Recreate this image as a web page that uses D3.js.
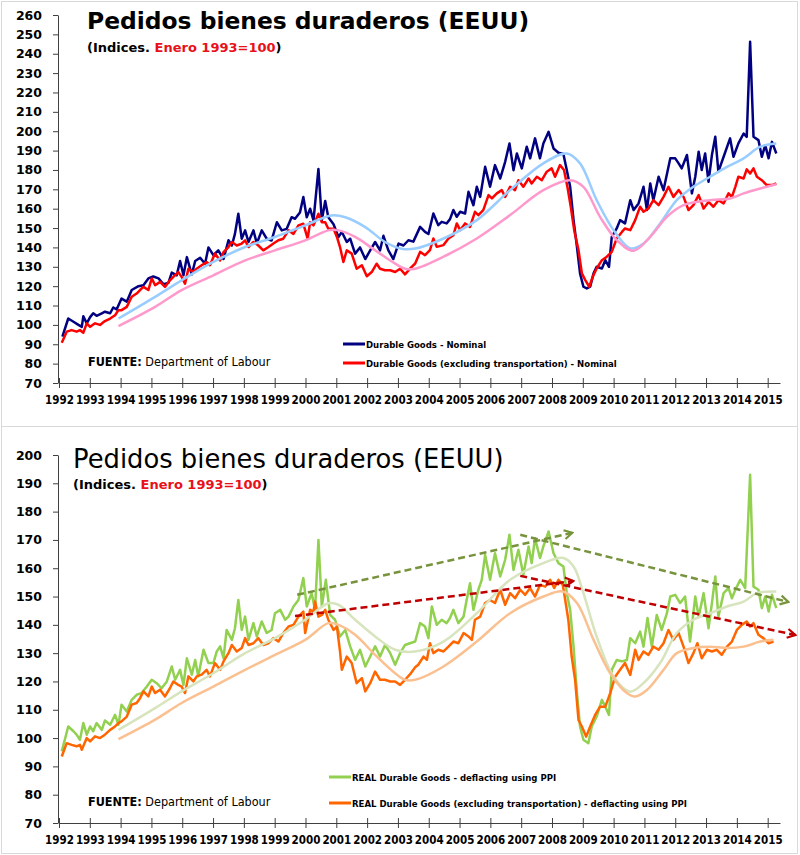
<!DOCTYPE html>
<html>
<head>
<meta charset="utf-8">
<script src="https://cdn.jsdelivr.net/npm/d3@7"></script>
<style>
  body { margin: 0; background: #fff; }
  svg { display: block; }
</style>
</head>
<body>
<svg id="chart" width="800" height="855"></svg>
<script>
// ---- data: [decimal year, index value] ----
const years = d3.range(1992, 2016)
const topTicks = d3.range(70, 261, 10)
const bottomTicks = d3.range(70, 201, 10)

const durableNominal = [
  [1992.11,94],[1992.30,103.3],[1992.47,101.6],[1992.63,100],[1992.74,99],[1992.79,104.5],[1992.90,100.8],[1993.01,104],[1993.11,106],[1993.22,104.7],[1993.39,106],[1993.49,106.8],[1993.66,106],[1993.76,109],[1993.87,108],
  [1994.03,113.6],[1994.20,112],[1994.36,118],[1994.58,120],[1994.74,120.5],[1994.90,124],[1995.06,125],[1995.23,124],[1995.39,121],[1995.55,121.7],[1995.66,127],[1995.82,125.6],[1995.93,133],[1996.04,125.6],[1996.15,135],[1996.31,126],[1996.42,133],[1996.58,134.7],[1996.74,131.6],[1996.85,140],
  [1997.01,136],[1997.17,138.5],[1997.34,134],[1997.50,143.7],[1997.61,141],[1997.71,147],[1997.82,157.4],[1997.93,144.5],[1998.04,148.8],[1998.15,142.8],[1998.31,148.8],[1998.42,142],[1998.58,148.8],[1998.74,144.5],[1998.90,143.6],[1999.07,153],[1999.23,148.8],[1999.39,149.6],[1999.55,155.6],[1999.66,154.8],[1999.82,158],[1999.93,166],
  [2000.04,155.6],[2000.15,160],[2000.26,154],[2000.42,180.5],[2000.53,154],[2000.64,164],[2000.74,155.6],[2000.91,152],[2001.07,145.4],[2001.18,148],[2001.34,142.8],[2001.45,144.5],[2001.61,136.8],[2001.77,140],[2001.94,134],[2002.10,138.5],[2002.26,142.8],[2002.42,138.5],[2002.53,146],[2002.69,138.5],[2002.85,134],[2003.02,142],[2003.18,141],[2003.34,143.7],[2003.50,143],
  [2003.72,150.6],[2003.88,148],[2003.99,146.9],[2004.15,157.5],[2004.31,151.5],[2004.42,153.2],[2004.58,152.4],[2004.69,154.6],[2004.80,159.3],[2004.91,155.8],[2005.02,158.4],[2005.18,157.5],[2005.29,168.7],[2005.45,161.8],[2005.56,171.3],[2005.67,166.1],[2005.83,181.6],[2005.99,171.3],[2006.15,182.5],[2006.32,175.6],[2006.48,184.2],[2006.62,193.7],[2006.75,179.9],[2006.86,188.5],
  [2007.02,180.8],[2007.18,192],[2007.29,186],[2007.45,196.3],[2007.61,186],[2007.72,193.7],[2007.89,199.7],[2008.05,191.1],[2008.21,188.9],[2008.37,188.2],[2008.48,180],[2008.59,171.3],[2008.70,154.1],[2008.81,140.3],[2008.91,126.6],[2009.02,119.7],[2009.13,118.8],[2009.24,119.7],[2009.35,126.6],[2009.45,130],[2009.62,129.1],[2009.73,133.4],[2009.85,130],[2009.94,145.5],
  [2010.10,149.8],[2010.21,154.1],[2010.37,152.4],[2010.54,164.4],[2010.65,159.3],[2010.81,162.7],[2010.97,171.3],[2011.08,159.3],[2011.19,173],[2011.29,164.4],[2011.46,176.5],[2011.62,169.6],[2011.84,186],[2012.00,186],[2012.11,183.4],[2012.21,180.8],[2012.38,187.7],[2012.54,167.9],[2012.65,176.5],[2012.76,189.4],[2012.86,180],[2012.97,188.5],
  [2013.08,173.9],[2013.19,187.7],[2013.30,197.1],[2013.40,179.1],[2013.57,186.8],[2013.78,196.3],[2013.89,186.8],[2014.05,193.7],[2014.22,198.8],[2014.32,197.1],[2014.43,246.2],[2014.54,197.1],[2014.70,195.4],[2014.81,186.8],[2014.92,192.8],[2015.03,186],[2015.14,194.5],[2015.28,188.5]
]

const durableExTransport = [
  [1992.09,90.8],[1992.25,96.5],[1992.41,97.3],[1992.57,96.5],[1992.68,97.3],[1992.79,96],[1992.90,100.8],[1993.01,99],[1993.17,100.8],[1993.33,100],[1993.49,102],[1993.66,103.3],[1993.82,105],[1993.93,107.6],
  [1994.03,107.6],[1994.20,109.3],[1994.36,114.5],[1994.52,116.2],[1994.63,118],[1994.74,119.6],[1994.90,118],[1995.01,124],[1995.12,120.5],[1995.28,122.2],[1995.44,119.6],[1995.60,123],[1995.71,124.8],[1995.87,127.3],[1995.98,124.8],[1996.09,121.3],[1996.20,129],[1996.36,127.3],[1996.47,129],[1996.63,130.8],[1996.79,132.5],[1996.90,130.8],
  [1997.06,136.8],[1997.23,133.3],[1997.34,137.6],[1997.50,140.2],[1997.61,142.8],[1997.77,141],[1997.93,142],[1998.04,143.6],[1998.15,140.2],[1998.31,142.8],[1998.47,141],[1998.63,138.5],[1998.80,140.2],[1998.96,142],[1999.12,143.7],[1999.28,144.5],[1999.45,148.8],[1999.61,147],[1999.77,151.4],[1999.93,152.2],
  [2000.07,144.5],[2000.15,153],[2000.26,151.4],[2000.42,157.4],[2000.53,153],[2000.64,153],[2000.74,149.6],[2000.91,149.6],[2001.02,145.4],[2001.12,140.2],[2001.23,132.5],[2001.34,138.5],[2001.50,136.8],[2001.66,129],[2001.83,130.8],[2001.99,125.1],[2002.15,127.3],[2002.31,131.6],[2002.42,129],[2002.58,128.2],[2002.75,128.2],[2002.91,127.3],[2003.07,129],[2003.23,126.1],[2003.39,129],
  [2003.56,131.7],[2003.72,137.7],[2003.88,136],[2004.04,138.6],[2004.15,144.6],[2004.26,140.3],[2004.48,141.2],[2004.64,144.6],[2004.80,146.3],[2004.91,152.4],[2005.02,148.9],[2005.18,152.4],[2005.34,150.6],[2005.50,158.4],[2005.61,156.7],[2005.77,159.3],[2005.94,167],[2006.05,165.3],[2006.21,167.9],[2006.37,169.6],[2006.48,166.1],[2006.64,171.3],[2006.80,169.6],[2006.91,174.7],
  [2007.07,171.3],[2007.24,175.6],[2007.34,173],[2007.51,176.5],[2007.67,174.7],[2007.83,179.1],[2007.99,180.8],[2008.10,176.5],[2008.26,182.5],[2008.39,180],[2008.50,171.3],[2008.61,161],[2008.72,148.9],[2008.86,138.6],[2008.97,126.6],[2009.08,123.1],[2009.21,119.7],[2009.32,124.8],[2009.45,129.1],[2009.62,133.4],[2009.78,135.2],[2009.94,137.7],
  [2010.10,144.6],[2010.27,148],[2010.37,149.8],[2010.54,148.9],[2010.70,154.1],[2010.86,161],[2010.97,158.4],[2011.13,160.1],[2011.29,164.4],[2011.46,161.8],[2011.62,166.1],[2011.78,171.3],[2011.94,166.1],[2012.11,169.6],[2012.27,166.1],[2012.43,159.3],[2012.59,161.8],[2012.76,167],[2012.92,160.1],
  [2013.08,163.5],[2013.24,161],[2013.40,164.4],[2013.57,162.7],[2013.73,167.9],[2013.84,166.1],[2013.95,171.3],[2014.05,176.5],[2014.22,175.6],[2014.32,180.3],[2014.43,178.2],[2014.54,180.8],[2014.65,176.5],[2014.81,174.7],[2014.97,172.2],[2015.14,172.2],[2015.28,173]
]

const nominalAvg = [
  [1993.93,103.3],[1995.12,114.5],[1995.98,123],[1997.01,132.5],[1998.04,140.2],[1999.01,145.4],[1999.99,151.4],[2000.85,156.5],[2001.29,155.6],[2001.94,150.5],[2002.58,142.8],[2003.12,139.3],[2003.56,139.4],[2004.48,144.6],[2005.56,154.1],[2006.64,169.6],
  [2007.72,183.4],[2008.48,188.5],[2008.91,183.4],[2009.45,164.4],[2010.00,148.9],[2010.54,139.5],[2010.97,142],[2011.51,152.4],[2012.05,164.4],[2012.59,171.3],[2013.13,176.5],[2013.68,181.6],[2014.22,186],[2014.76,192],[2015.28,193.7]
]

const exTransportAvg = [
  [1993.93,99.4],[1995.12,109.3],[1995.98,118],[1997.01,125.6],[1998.04,133.3],[1999.01,138.5],[1999.99,143.6],[2000.74,148.8],[2001.07,148.8],[2001.61,145.4],[2002.26,138.5],[2002.91,131.6],[2003.23,129],[2003.56,129],[2004.48,135.2],[2005.56,144.6],[2006.64,156.7],
  [2007.72,169.6],[2008.59,174.7],[2009.02,171.3],[2009.56,155.8],[2010.10,143.8],[2010.65,138.3],[2011.19,145.5],[2011.73,155.8],[2012.27,161.8],[2013.13,164.4],[2013.78,165.3],[2014.22,167.9],[2014.76,170.4],[2015.28,172.7]
]

const realDurable = [
  [1992.09,95.3],[1992.30,104.1],[1992.47,102.4],[1992.57,101.2],[1992.68,99.4],[1992.79,105.3],[1992.90,101.2],[1993.01,104.1],[1993.11,102.4],[1993.22,105.3],[1993.39,102.9],[1993.49,106.2],[1993.66,104.7],[1993.82,108.2],[1993.93,104.7],
  [1994.03,111.8],[1994.20,109.4],[1994.36,113.5],[1994.52,115.3],[1994.68,115.9],[1994.85,118.2],[1995.01,120.6],[1995.17,119.4],[1995.33,117.6],[1995.50,120],[1995.66,125.3],[1995.77,120.6],[1995.93,124.1],[1996.04,118.8],[1996.15,128.2],[1996.31,122.4],[1996.42,127.6],[1996.52,121.8],[1996.69,131.2],[1996.85,126.5],
  [1997.01,126.5],[1997.12,130.6],[1997.23,132.4],[1997.34,128.2],[1997.44,138.2],[1997.61,134.7],[1997.71,138.8],[1997.82,148.8],[1997.93,138.2],[1998.04,142.9],[1998.15,134.7],[1998.31,140.6],[1998.42,135.9],[1998.58,141.2],[1998.74,137.1],[1998.90,138.2],[1999.01,144.1],[1999.18,145.3],[1999.34,141.8],[1999.45,142.9],[1999.61,146.5],[1999.77,148.8],[1999.93,156.5],
  [2000.04,146.5],[2000.20,151.2],[2000.31,145.3],[2000.42,170],[2000.53,146.5],[2000.66,155.9],[2000.80,143.5],[2000.96,141.8],[2001.12,135.9],[2001.29,138.2],[2001.45,132.4],[2001.61,127.6],[2001.77,131.2],[2001.94,125.3],[2002.10,128.8],[2002.26,132.4],[2002.42,128.8],[2002.58,132.9],[2002.75,130],[2002.91,125.9],[2003.07,130],[2003.23,132.9],[2003.39,133.5],
  [2003.56,134.1],[2003.72,140.6],[2003.88,139.4],[2003.99,135.3],[2004.10,146.5],[2004.26,140],[2004.42,141.8],[2004.58,140.6],[2004.69,142.4],[2004.80,145.3],[2004.96,140.6],[2005.13,142.9],[2005.23,148.8],[2005.34,154.7],[2005.45,145.3],[2005.61,152.4],[2005.72,155.9],[2005.83,164.7],[2005.99,155.9],[2006.15,165.3],[2006.32,157.1],[2006.48,163],[2006.62,171.8],[2006.75,159.4],[2006.91,166.5],
  [2007.07,157.7],[2007.24,167.7],[2007.34,161.8],[2007.45,170.6],[2007.61,163.6],[2007.72,167.7],[2007.89,173],[2008.05,165.3],[2008.21,161.8],[2008.37,160.6],[2008.48,151.2],[2008.59,145.3],[2008.70,132.3],[2008.81,115.9],[2008.91,104.1],[2009.02,99.4],[2009.18,98.2],[2009.29,104.1],[2009.45,107.6],[2009.62,113.5],[2009.73,111.1],[2009.85,108.2],[2009.94,124.1],
  [2010.10,127.6],[2010.27,127.1],[2010.43,127.6],[2010.54,135.3],[2010.70,133.5],[2010.86,137.6],[2010.97,132.3],[2011.10,142.4],[2011.24,132.3],[2011.40,143.5],[2011.56,138.2],[2011.73,144.1],[2011.84,150],[2012.00,150.6],[2012.16,147.7],[2012.32,150],[2012.48,134.1],[2012.65,150],[2012.76,142.9],[2012.92,151.2],
  [2013.08,138.8],[2013.19,147.7],[2013.30,157.1],[2013.40,142.9],[2013.57,151.2],[2013.73,153],[2013.84,149.4],[2013.95,152.4],[2014.11,155.9],[2014.27,153],[2014.43,193],[2014.54,153.5],[2014.70,152.4],[2014.81,145.9],[2014.92,150],[2015.03,144.7],[2015.14,150.6],[2015.28,145.9]
]

const realExTransport = [
  [1992.09,93.5],[1992.25,98.2],[1992.41,97.6],[1992.57,97.1],[1992.68,97.6],[1992.74,95.9],[1992.90,100],[1993.01,98.8],[1993.17,100.6],[1993.33,100],[1993.49,101.2],[1993.66,102.9],[1993.82,104.1],[1993.93,105.3],
  [1994.03,105.9],[1994.20,107.6],[1994.36,111.8],[1994.52,112.4],[1994.63,114.1],[1994.74,116.5],[1994.90,114.7],[1995.01,118.2],[1995.12,115.9],[1995.28,117.1],[1995.44,114.7],[1995.60,117.6],[1995.71,120],[1995.87,118.8],[1995.98,118.2],[1996.09,115.9],[1996.20,121.8],[1996.36,120],[1996.47,121.8],[1996.63,122.4],[1996.79,124.1],[1996.90,121.8],
  [1997.06,126.5],[1997.23,124.1],[1997.34,127.1],[1997.50,130],[1997.61,132.9],[1997.77,130.6],[1997.93,131.8],[1998.04,135.3],[1998.15,132.9],[1998.31,133.5],[1998.47,135.3],[1998.63,132.9],[1998.80,133.5],[1998.96,135.3],[1999.12,134.1],[1999.28,137.1],[1999.45,139.4],[1999.61,140],[1999.77,142.9],[1999.93,144.7],
  [1999.99,137.1],[2000.15,145.3],[2000.26,144.7],[2000.31,148.2],[2000.42,142.9],[2000.53,143.5],[2000.64,145.3],[2000.74,141.8],[2000.91,138.2],[2001.02,139.4],[2001.12,130.6],[2001.18,124.1],[2001.34,128.8],[2001.50,126.5],[2001.66,119.4],[2001.83,121.2],[2001.94,116.5],[2002.10,119.4],[2002.26,123.5],[2002.42,120.6],[2002.58,120.6],[2002.75,120],[2002.91,120],[2003.07,118.8],[2003.23,120.6],[2003.39,122.5],
  [2003.56,125],[2003.66,125.9],[2003.83,128.8],[2003.94,127.6],[2004.04,133.5],[2004.15,130],[2004.31,131.2],[2004.48,130.6],[2004.64,132.3],[2004.80,134.1],[2004.96,133.5],[2005.13,137.1],[2005.29,135.9],[2005.40,134.7],[2005.50,141.8],[2005.67,142.9],[2005.83,147.7],[2005.99,148.8],[2006.15,147.7],[2006.32,152.4],[2006.48,147.1],[2006.64,151.2],[2006.80,149.4],[2006.97,152.4],
  [2007.13,150.6],[2007.29,153],[2007.45,150],[2007.61,154.1],[2007.78,153.5],[2007.94,155.9],[2008.07,153],[2008.21,155.9],[2008.35,154.1],[2008.43,148.8],[2008.53,141.8],[2008.64,128.8],[2008.75,120.6],[2008.86,106.4],[2008.97,104.1],[2009.11,100.5],[2009.24,104.1],[2009.40,108.2],[2009.56,111.1],[2009.73,111.1],[2009.89,115.9],
  [2010.05,121.7],[2010.21,124.1],[2010.37,126.5],[2010.54,122.3],[2010.70,131.2],[2010.81,127.6],[2010.97,130.6],[2011.13,129.4],[2011.29,132.3],[2011.46,131.2],[2011.62,133.5],[2011.78,138.2],[2011.94,134.7],[2012.11,137.1],[2012.27,132.3],[2012.43,126.5],[2012.59,130],[2012.72,133.5],[2012.86,128.2],
  [2013.03,131.2],[2013.19,130.6],[2013.35,131.2],[2013.51,129.4],[2013.68,132.3],[2013.84,134.1],[2014.00,138.2],[2014.16,140],[2014.32,141.2],[2014.43,139.4],[2014.54,140.6],[2014.70,136.5],[2014.86,135.3],[2015.03,133.5],[2015.19,134.1]
]

const realAvg = [
  [1993.93,102.9],[1995.12,110.6],[1995.98,116.5],[1997.01,122.9],[1998.04,130],[1999.01,135.3],[1999.99,141.8],[2000.74,147.6],[2001.07,147.1],[2001.61,141.8],[2002.26,135.9],[2002.91,131.2],[2003.56,130.6],[2004.48,134.1],[2005.56,144.1],[2006.64,155.9],
  [2007.72,161.8],[2008.37,163.6],[2008.70,160.6],[2009.02,151.2],[2009.45,135.9],[2010.00,121.7],[2010.54,116.4],[2010.97,119.4],[2011.51,126.5],[2012.05,137.1],[2012.59,141.8],[2013.13,144.1],[2013.68,146.5],[2014.22,148.2],[2014.65,151.2],[2015.28,151.8]
]

const realExTransportAvg = [
  [1993.93,99.6],[1995.12,106.5],[1995.98,112.4],[1997.01,118.2],[1998.04,124.1],[1999.01,129.4],[1999.99,134.7],[2000.74,140.6],[2001.07,140],[2001.61,136.5],[2002.26,129.4],[2002.91,122.9],[2003.23,120.6],[2003.56,120.6],[2004.48,125.3],[2005.56,134.1],[2006.64,144.1],
  [2007.72,150],[2008.35,151.8],[2008.81,147.7],[2009.35,134.7],[2009.89,122.9],[2010.43,115.9],[2010.70,114.7],[2011.08,117],[2011.62,124.1],[2012.05,130],[2012.59,131.8],[2013.13,132.3],[2013.68,131.8],[2014.22,132.3],[2014.76,134.1],[2015.19,134.7]
]

// trend arrows drawn on the lower chart
const greenTrends = [
  [[1999.73,150.6],[2008.66,172.5]],
  [[2006.97,171.8],[2015.67,148.1]]
]
const redTrends = [
  [[1999.66,143.1],[2008.69,155.5]],
  [[2006.97,157.3],[2015.9,136.4]]
]

// ---- drawing ----
const svg = d3.select('#chart')
const condensed = "'DejaVu Sans Condensed', 'DejaVu Sans', sans-serif"
const verdana = "'DejaVu Sans', Verdana, sans-serif"

const x = d3.scaleLinear().domain([1992, 2015.4]).range([59, 780])
const yTop = d3.scaleLinear().domain([70, 260]).range([383, 15])
const yBottom = d3.scaleLinear().domain([70, 200]).range([823, 455])

// frame
svg.append('rect')
  .attr('x', 1.5).attr('y', 1.5)
  .attr('width', 796).attr('height', 852)
  .attr('fill', 'none').attr('stroke', '#d9d9d9')
svg.append('line')
  .attr('x1', 1.5).attr('x2', 797.5)
  .attr('y1', 426.5).attr('y2', 426.5)
  .attr('stroke', '#d9d9d9')

const defs = svg.append('defs')
const marker = (id, color) => {
  defs.append('marker')
    .attr('id', id)
    .attr('markerUnits', 'userSpaceOnUse')
    .attr('viewBox', '0 0 12 12')
    .attr('markerWidth', 12).attr('markerHeight', 12)
    .attr('refX', 10).attr('refY', 6)
    .attr('orient', 'auto')
    .append('path')
    .attr('d', 'M2,1.5 L10,6 L2,10.5')
    .attr('fill', 'none')
    .attr('stroke', color)
    .attr('stroke-width', 2.2)
}
marker('head-green', '#77933c')
marker('head-red', '#c00000')

const axes = (y, ticks) => {
  const base = y.range()[0]
  const xAxis = svg.append('g')
    .attr('transform', `translate(0 ${base})`)
    .call(d3.axisBottom(x).tickValues(years).tickFormat(d3.format('d')).tickSizeOuter(0))
  xAxis.select('.domain').attr('stroke', '#404040')
  xAxis.selectAll('.tick line').attr('y1', -5).attr('y2', 5).attr('stroke', '#404040')
  xAxis.selectAll('.tick text')
    .attr('y', 13)
    .attr('font-family', condensed)
    .attr('font-weight', 'bold')
    .attr('font-size', 11.5)
    .attr('fill', '#000')

  const yAxis = svg.append('g')
    .attr('transform', `translate(${x.range()[0] - 1} 0)`)
    .call(d3.axisLeft(y).tickValues(ticks).tickSize(5).tickPadding(11).tickSizeOuter(0))
  yAxis.select('.domain').attr('stroke', '#404040')
  yAxis.selectAll('.tick line').attr('stroke', '#404040')
  yAxis.selectAll('.tick text')
    .attr('font-family', verdana)
    .attr('font-weight', 'bold')
    .attr('font-size', 12.5)
    .attr('fill', '#000')
}

const plot = (y, data, color, width = 2.5, curve = d3.curveLinear) => {
  const line = d3.line()
    .x((d) => x(d[0]))
    .y((d) => y(d[1]))
    .curve(curve)
  svg.append('path')
    .datum(data)
    .attr('fill', 'none')
    .attr('stroke', color)
    .attr('stroke-width', width)
    .attr('stroke-linejoin', 'round')
    .attr('d', line)
}

const titles = (tx, ty, bold, size, sy) => {
  svg.append('text')
    .attr('x', tx).attr('y', ty)
    .attr('font-family', verdana)
    .attr('font-weight', bold ? 'bold' : 'normal')
    .attr('font-size', size)
    .text('Pedidos bienes duraderos (EEUU)')
  const sub = svg.append('text')
    .attr('x', tx).attr('y', sy)
    .attr('font-family', verdana)
    .attr('font-weight', 'bold')
    .attr('font-size', 13)
  sub.append('tspan').text('(Indices. ')
  sub.append('tspan').attr('fill', '#e8101a').text('Enero 1993=100')
  sub.append('tspan').text(')')
}

const legend = (lx, ly, color, label) => {
  svg.append('line')
    .attr('x1', lx).attr('x2', lx + 22)
    .attr('y1', ly).attr('y2', ly)
    .attr('stroke', color).attr('stroke-width', 3)
  svg.append('text')
    .attr('x', lx + 23).attr('y', ly + 3.5)
    .attr('font-family', condensed)
    .attr('font-weight', 'bold')
    .attr('font-size', 9.5)
    .text(label)
}

const source = (sx, sy) => {
  const t = svg.append('text')
    .attr('x', sx).attr('y', sy)
    .attr('font-family', condensed)
    .attr('font-size', 12.5)
  t.append('tspan').attr('font-weight', 'bold').text('FUENTE:')
  t.append('tspan').text(' Department of Labour')
}

// top chart: nominal
axes(yTop, topTicks)
plot(yTop, durableNominal, '#000080')
plot(yTop, durableExTransport, '#ff0000')
plot(yTop, nominalAvg, '#99ccff', 2.5, d3.curveCatmullRom)
plot(yTop, exTransportAvg, '#ff99cc', 2.5, d3.curveCatmullRom)
titles(87, 29, true, 23.4, 52)
legend(343, 344, '#000080', 'Durable Goods - Nominal')
legend(343, 363, '#ff0000', 'Durable Goods (excluding transportation) - Nominal')
source(88, 366)

// bottom chart: real
axes(yBottom, bottomTicks)
plot(yBottom, realDurable, '#92d050')
plot(yBottom, realExTransport, '#ff6600')
plot(yBottom, realAvg, '#d7e4bd', 2.5, d3.curveCatmullRom)
plot(yBottom, realExTransportAvg, '#fac090', 2.5, d3.curveCatmullRom)

const trend = (pts, color, head) => {
  svg.append('line')
    .attr('x1', x(pts[0][0])).attr('y1', yBottom(pts[0][1]))
    .attr('x2', x(pts[1][0])).attr('y2', yBottom(pts[1][1]))
    .attr('stroke', color)
    .attr('stroke-width', 2.5)
    .attr('stroke-dasharray', '7,4')
    .attr('marker-end', `url(#${head})`)
}
greenTrends.forEach((t) => trend(t, '#77933c', 'head-green'))
redTrends.forEach((t) => trend(t, '#c00000', 'head-red'))

titles(73, 468, false, 25.8, 489)
legend(329, 777, '#92d050', 'REAL Durable Goods - deflacting using PPI')
legend(329, 803, '#ff6600', 'REAL Durable Goods (excluding transportation) - deflacting using PPI')
source(88, 806)
</script>
</body>
</html>
